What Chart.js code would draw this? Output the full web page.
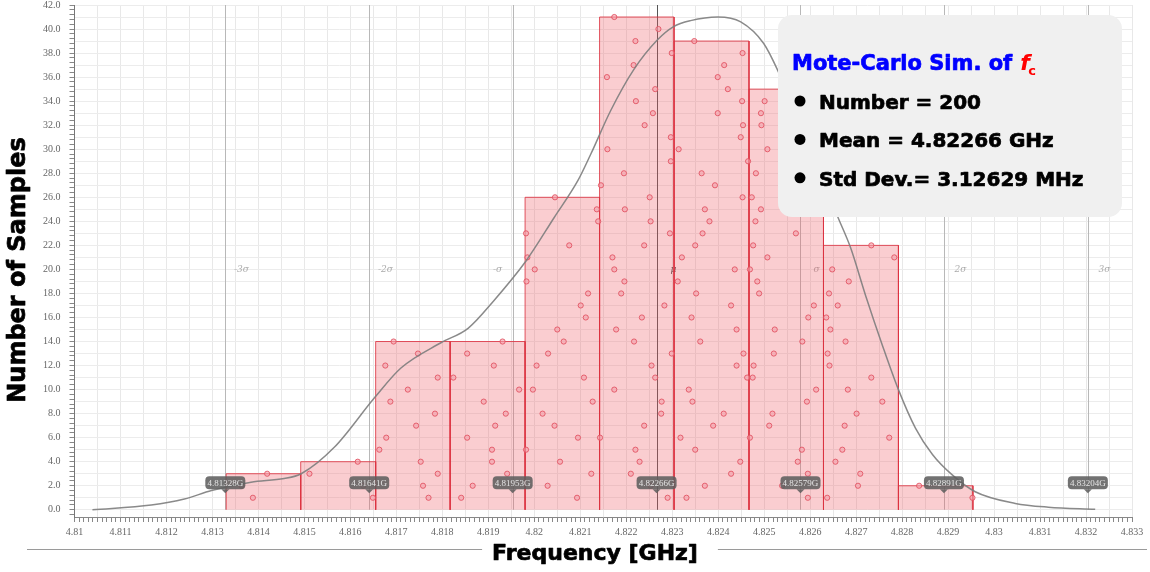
<!DOCTYPE html>
<html>
<head>
<meta charset="utf-8">
<script src="https://cdn.jsdelivr.net/npm/chart.js@4.4.1/dist/chart.umd.min.js"></script>
<style>
  html, body { margin: 0; padding: 0; background: #fff; }
  #wrap { width: 1150px; height: 572px; }
</style>
</head>
<body>
<div id="wrap"><canvas id="mc"></canvas></div>
<script>
// all frequencies in MHz, the axis shows them in GHz
const binEdges = [4813.30, 4814.92, 4816.55, 4818.17, 4819.80, 4821.42, 4823.04, 4824.67, 4826.29, 4827.92, 4829.54];
const binCounts = [3, 4, 14, 14, 26, 41, 39, 35, 22, 2];

// one dot per count level in each bin (level 1 first), x
const dotFreqs = [
  [4813.88, 4813.63, 4814.19],
  [4816.49, 4816.28, 4815.11, 4816.16],
  [4817.70, 4817.58, 4817.90, 4817.53, 4816.63, 4816.78, 4817.43, 4817.84, 4816.87, 4817.25, 4817.90, 4816.76, 4817.47, 4816.94],
  [4818.41, 4818.66, 4819.41, 4819.08, 4819.08, 4818.54, 4819.15, 4819.38, 4818.90, 4819.67, 4818.24, 4819.12, 4818.54, 4819.31],
  [4820.93, 4820.29, 4821.24, 4820.56, 4819.82, 4820.95, 4820.44, 4820.18, 4821.27, 4819.97, 4821.08, 4820.05, 4820.30,
   4820.64, 4820.50, 4821.12, 4821.01, 4821.17, 4819.83, 4820.01, 4819.85, 4820.76, 4819.82, 4821.39, 4821.36, 4820.45],
  [4822.90, 4822.53, 4822.10, 4822.29, 4822.20, 4821.43, 4822.39, 4822.76, 4822.77, 4821.74, 4822.63, 4822.55, 4822.99, 4822.17,
   4821.78, 4822.34, 4822.83, 4821.89, 4821.96, 4821.74, 4821.70, 4822.39, 4822.95, 4822.53, 4821.97, 4822.51, 4821.45, 4821.95,
   4822.97, 4821.59, 4822.97, 4822.40, 4822.58, 4822.21, 4822.63, 4821.58, 4822.16, 4822.99, 4822.20, 4822.70, 4821.74],
  [4823.31, 4823.71, 4824.28, 4824.48, 4823.50, 4823.18, 4823.89, 4824.12, 4823.44, 4823.36, 4824.63, 4824.40, 4824.55, 4823.61,
   4824.40, 4823.42, 4824.28, 4823.52, 4823.12, 4824.36, 4823.21, 4823.50, 4823.66, 4823.81, 4823.71, 4824.53, 4823.93, 4823.64,
   4824.65, 4823.14, 4824.49, 4824.54, 4823.99, 4824.52, 4824.21, 4823.99, 4824.13, 4824.53, 4823.48],
  [4825.95, 4825.39, 4825.95, 4825.73, 4825.82, 4824.69, 4825.11, 4825.18, 4825.93, 4826.13, 4824.75, 4824.77, 4825.21, 4825.83,
   4825.23, 4825.96, 4826.08, 4824.89, 4824.85, 4824.69, 4825.07, 4824.76, 4825.69, 4824.81, 4824.93, 4824.73, 4826.01, 4824.82,
   4825.46, 4825.07, 4825.79, 4824.94, 4824.93, 4825.01, 4825.57],
  [4826.37, 4827.04, 4827.09, 4826.55, 4826.70, 4827.72, 4826.75, 4827.01, 4827.57, 4826.82, 4827.33, 4826.42, 4826.38, 4826.77,
   4826.44, 4826.35, 4826.60, 4826.41, 4826.84, 4826.48, 4827.83, 4827.33],
  [4829.53, 4828.37]
];

// smoothed fit curve
const fitFreq = [4810.39, 4811.67, 4812.39, 4812.98, 4813.84, 4814.56, 4814.93, 4815.65, 4816.52, 4817.10, 4817.97, 4818.56,
  4819.12, 4819.82, 4820.43, 4820.95, 4821.23, 4821.66, 4822.16, 4822.68, 4823.03, 4823.40, 4823.99, 4824.49, 4824.99, 4825.29,
  4826.62, 4826.88, 4827.20, 4827.57, 4827.92, 4828.29, 4828.66, 4829.09, 4829.59, 4830.46, 4831.18, 4832.20];
const fitCount = [0, 0.4, 0.9, 1.6, 2.3, 2.6, 3.0, 5.2, 9.3, 11.8, 13.9, 15.1,
  17.4, 20.7, 24.3, 27.4, 29.6, 33.2, 36.6, 39.1, 40.2, 40.7, 41.0, 40.6, 38.8, 36.6,
  24.2, 21.8, 17.9, 13.7, 10.0, 6.8, 4.6, 2.9, 1.5, 0.53, 0.22, 0.05];

const sigmaFreqs = [4813.28, 4816.41, 4819.53, 4822.66, 4825.79, 4828.91, 4832.04];
const sigmaNames = ['-3σ', '-2σ', '-σ', 'μ', 'σ', '2σ', '3σ'];
const sigmaTags = ['4.81328G', '4.81641G', '4.81953G', '4.82266G', '4.82579G', '4.82891G', '4.83204G'];

const infoTitle = 'Mote-Carlo Sim. of';
const infoLines = ['Number = 200', 'Mean = 4.82266 GHz', 'Std Dev.= 3.12629 MHz'];

const isMult = (v, m) => Math.abs(v / m - Math.round(v / m)) < 1e-6;
const clear = 'rgba(0,0,0,0)';

const decorPlugin = {
  id: 'decor',
  beforeDatasetsDraw(chart) {
    const { ctx, chartArea, scales: { x, y } } = chart;
    ctx.save();
    sigmaFreqs.forEach((f, i) => {
      const px = Math.round(x.getPixelForValue(f)) + 0.5;
      const mu = sigmaNames[i] === 'μ';
      ctx.strokeStyle = mu ? '#555' : '#b8b8b8';
      ctx.lineWidth = 1;
      ctx.beginPath();
      ctx.moveTo(px, chartArea.top);
      ctx.lineTo(px, y.getPixelForValue(0));
      ctx.stroke();
      ctx.fillStyle = mu ? '#444' : '#aaa';
      ctx.font = 'italic 9px "DejaVu Serif"';
      ctx.textAlign = 'center';
      ctx.textBaseline = 'middle';
      const dx = sigmaNames[i] === '-σ' ? -16 : 16;
      ctx.fillText(sigmaNames[i], px + dx, y.getPixelForValue(20));
    });
    ctx.restore();
  },
  afterDatasetsDraw(chart) {
    const { ctx, scales: { x, y } } = chart;
    ctx.save();
    sigmaFreqs.forEach((f, i) => {
      const px = x.getPixelForValue(f);
      const py = y.getPixelForValue(2.25);
      const w = 40, h = 13;
      ctx.fillStyle = 'rgba(95,95,95,0.88)';
      ctx.beginPath();
      ctx.roundRect(px - w / 2, py - h / 2, w, h, 4);
      ctx.fill();
      ctx.beginPath();
      ctx.moveTo(px - 4, py + h / 2);
      ctx.lineTo(px, py + h / 2 + 4);
      ctx.lineTo(px + 4, py + h / 2);
      ctx.fill();
      ctx.fillStyle = '#e4e4e4';
      ctx.font = '9px "Liberation Serif"';
      ctx.textAlign = 'center';
      ctx.textBaseline = 'middle';
      ctx.fillText(sigmaTags[i], px, py + 0.5);
    });
    ctx.restore();
  },
  afterDraw(chart) {
    const { ctx } = chart;
    ctx.save();
    // info box
    ctx.fillStyle = '#f0f0f0';
    ctx.beginPath();
    ctx.roundRect(778, 15, 344, 202, 14);
    ctx.fill();
    ctx.textAlign = 'left';
    ctx.textBaseline = 'alphabetic';
    ctx.lineJoin = 'round';
    ctx.font = 'bold 21px "DejaVu Sans"';
    ctx.fillStyle = '#0000ff';
    ctx.strokeStyle = '#0000ff';
    ctx.lineWidth = 0.7;
    ctx.fillText(infoTitle, 792, 70);
    ctx.strokeText(infoTitle, 792, 70);
    const tw = ctx.measureText(infoTitle).width;
    ctx.fillStyle = '#ff0000';
    ctx.font = 'italic bold 22px "DejaVu Sans"';
    ctx.fillText('f', 792 + tw + 8, 70);
    ctx.font = 'bold 13px "DejaVu Sans"';
    ctx.fillText('c', 792 + tw + 16, 75);
    ctx.fillStyle = '#000';
    ctx.strokeStyle = '#000';
    ctx.font = 'bold 20px "DejaVu Sans"';
    infoLines.forEach((t, i) => {
      const by = 109 + i * 38.4;
      ctx.beginPath();
      ctx.arc(800, by - 8, 5.5, 0, Math.PI * 2);
      ctx.fill();
      ctx.fillText(t, 819, by);
      ctx.strokeText(t, 819, by);
    });
    // axis titles
    ctx.font = 'bold 24px "DejaVu Sans"';
    ctx.textAlign = 'center';
    ctx.textBaseline = 'middle';
    ctx.save();
    ctx.translate(19, 270);
    ctx.rotate(-Math.PI / 2);
    ctx.fillText('Number of Samples', 0, 0);
    ctx.strokeText('Number of Samples', 0, 0);
    ctx.restore();
    ctx.font = 'bold 22px "DejaVu Sans"';
    const xt = 'Frequency [GHz]';
    const xw = ctx.measureText(xt).width;
    ctx.fillText(xt, 595, 554);
    ctx.strokeText(xt, 595, 554);
    ctx.strokeStyle = '#9a9a9a';
    ctx.lineWidth = 1;
    ctx.beginPath();
    ctx.moveTo(27, 549.5);
    ctx.lineTo(595 - xw / 2 - 10, 549.5);
    ctx.moveTo(595 + xw / 2 + 20, 549.5);
    ctx.lineTo(1147, 549.5);
    ctx.stroke();
    ctx.restore();
  }
};

// each histogram bin as a filled outline on the shared scales
const binSets = binCounts.map((c, i) => ({
  type: 'line',
  order: 2,
  data: [
    { x: binEdges[i], y: 0 }, { x: binEdges[i], y: c },
    { x: binEdges[i + 1], y: c }, { x: binEdges[i + 1], y: 0 }
  ],
  fill: 'origin',
  backgroundColor: 'rgba(240,90,100,0.3)',
  borderColor: 'rgba(220,50,65,0.85)',
  borderWidth: 1,
  pointRadius: 0,
  tension: 0
}));

new Chart(document.getElementById('mc'), {
  type: 'scatter',
  data: {
    datasets: [
      {
        type: 'line',
        order: 0,
        data: fitFreq.map((f, i) => ({ x: f, y: fitCount[i] })),
        borderColor: 'rgba(125,125,125,0.9)',
        borderWidth: 1.5,
        pointRadius: 0,
        cubicInterpolationMode: 'monotone',
        fill: false
      },
      {
        type: 'scatter',
        order: 1,
        data: dotFreqs.flatMap(arr => arr.map((f, k) => ({ x: f, y: k + 1 }))),
        pointRadius: 2.6,
        borderWidth: 1,
        borderColor: 'rgba(225,80,95,0.85)',
        backgroundColor: 'rgba(245,160,170,0.6)'
      },
      ...binSets
    ]
  },
  options: {
    responsive: true,
    maintainAspectRatio: false,
    devicePixelRatio: 1,
    animation: false,
    events: [],
    layout: { padding: { left: 39, right: 18, top: 0, bottom: 30 } },
    plugins: { legend: { display: false }, tooltip: { enabled: false } },
    scales: {
      x: {
        type: 'linear',
        position: 'bottom',
        min: 4810,
        max: 4833,
        offset: false,
        ticks: {
          stepSize: 0.1,
          autoSkip: false,
          maxRotation: 0,
          minRotation: 0,
          padding: 4,
          font: { family: 'Liberation Serif', size: 10 },
          color: '#666',
          callback: v => isMult(v, 1) ? String(+(v / 1000).toFixed(3)) : ''
        },
        grid: {
          offset: false,
          tickLength: 5,
          color: c => isMult(c.tick.value, 0.5) ? '#e8e8e8' : clear,
          tickColor: '#888'
        },
        border: { color: '#888' }
      },
      y: {
        type: 'linear',
        min: -0.6,
        max: 42,
        ticks: {
          stepSize: 0.2,
          autoSkip: false,
          padding: 4,
          font: { family: 'Liberation Serif', size: 10, lineHeight: 0.2 },
          color: '#666',
          callback: v => (v >= 0 && isMult(v, 2)) ? v.toFixed(1) + '\u2002' : ''
        },
        grid: {
          tickLength: 5,
          color: c => (c.tick.value >= 0 && isMult(c.tick.value, 1)) ? '#ececec' : clear,
          tickColor: c => isMult(c.tick.value, 0.4) ? '#888' : clear
        },
        border: { color: '#777' }
      }
    }
  },
  plugins: [decorPlugin]
});
</script>
</body>
</html>
